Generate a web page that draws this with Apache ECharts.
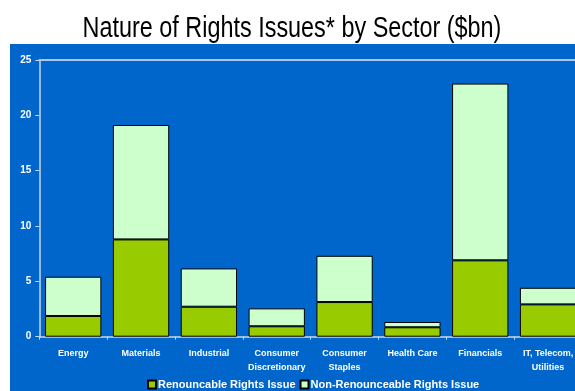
<!DOCTYPE html>
<html>
<head>
<meta charset="utf-8">
<style>
  html, body { margin: 0; padding: 0; background: #ffffff; overflow: hidden; width: 575px; height: 391px; }
  #panel { position: absolute; left: 10px; top: 44px; width: 565px; height: 347px; background: #0066cc; }
  #chart { position: absolute; left: 0; top: 0; width: 582px; height: 391px; }
</style>
<script src="https://cdn.jsdelivr.net/npm/echarts@6/dist/echarts.min.js"></script>
</head>
<body>
<div id="panel"></div>
<div id="chart"></div>
<script>
// Rights issues raised per sector, in $bn
const sectors = ['Energy', 'Materials', 'Industrial', 'Consumer\nDiscretionary', 'Consumer\nStaples', 'Health Care', 'Financials', 'IT, Telecom,\nUtilities'];
const renouncable = [1.87, 8.79, 2.71, 0.94, 3.13, 0.85, 6.90, 2.92];
const nonRenouncable = [3.55, 10.34, 3.46, 1.62, 4.18, 0.48, 15.97, 1.50];
const yTicks = [0, 5, 10, 15, 20, 25];

const chart = echarts.init(document.getElementById('chart'), null, { renderer: 'canvas' });
const labelFont = 'Liberation Sans, Arial, sans-serif';
const axisCol = '#c9d9ea';

chart.setOption({
  backgroundColor: 'transparent',
  animation: false,
  // condensed title, drawn as text squeezed horizontally
  graphic: [{
    type: 'text',
    x: 292,
    y: 14,
    scaleX: 0.78,
    style: {
      text: 'Nature of Rights Issues* by Sector ($bn)',
      fontFamily: 'Liberation Sans, Arial, sans-serif',
      fontSize: 30,
      fill: '#000000',
      textAlign: 'center',
      verticalAlign: 'top'
    }
  }],
  grid: { left: 39.3, right: 0, top: 60, bottom: 54.3, containLabel: false },
  legend: {
    bottom: -4,
    left: 142,
    itemWidth: 8,
    itemHeight: 8,
    itemGap: 4,
    icon: 'rect',
    textStyle: { color: '#ffffff', fontWeight: 'bold', fontSize: 11, fontFamily: labelFont, padding: [0, 0, 0, -3] },
    data: ['Renouncable Rights Issue', 'Non-Renounceable Rights Issue']
  },
  xAxis: [{
    type: 'category',
    data: sectors,
    axisLine: { lineStyle: { color: axisCol, width: 1.5 } },
    axisTick: { show: true, length: 3, lineStyle: { color: axisCol } },
    axisLabel: {
      color: '#ffffff', fontWeight: 'bold', fontSize: 9, fontFamily: labelFont,
      margin: 10, lineHeight: 14, interval: 0
    }
  }, {
    type: 'category',
    data: sectors,
    position: 'top',
    axisLine: { lineStyle: { color: '#a9c9ee', width: 2 } },
    axisTick: { show: false },
    axisLabel: { show: false }
  }],
  yAxis: {
    type: 'value',
    min: yTicks[0],
    max: yTicks[yTicks.length - 1],
    interval: 5,
    axisLine: { show: true, lineStyle: { color: axisCol, width: 1.5 } },
    axisTick: { show: true, length: 4, lineStyle: { color: axisCol } },
    splitLine: { show: false },
    axisLabel: { color: '#ffffff', fontWeight: 'bold', fontSize: 10, fontFamily: labelFont, margin: 8 }
  },
  series: [{
    name: 'Renouncable Rights Issue',
    type: 'bar',
    stack: 'total',
    data: renouncable,
    barCategoryGap: '17%',
    itemStyle: { color: '#99cc00', borderColor: '#000000', borderWidth: 1 }
  }, {
    name: 'Non-Renounceable Rights Issue',
    type: 'bar',
    stack: 'total',
    data: nonRenouncable,
    barCategoryGap: '17%',
    itemStyle: { color: '#ccffcc', borderColor: '#000000', borderWidth: 1 }
  }]
});
</script>
</body>
</html>
